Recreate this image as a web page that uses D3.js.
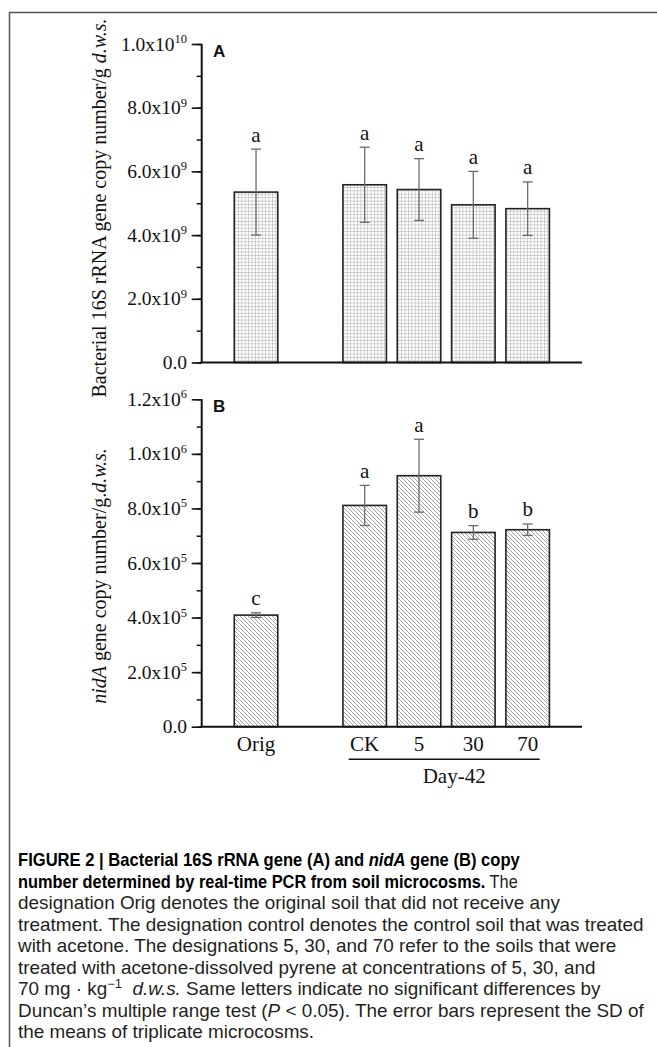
<!DOCTYPE html>
<html><head><meta charset="utf-8">
<script src="https://cdn.jsdelivr.net/npm/d3@7"></script>
<style>body{margin:0;background:#fff}svg{display:block}</style>
</head><body>
<svg id="c" width="657" height="1047"></svg>
<script>
// ---------- data ----------
const slots = ["Orig", "gap", "CK", "5", "30", "70"];
const categories = ["Orig", "CK", "5", "30", "70"];
const valuesA = [5.35e9, 5.58e9, 5.43e9, 4.95e9, 4.83e9];
const sdA = [1.35e9, 1.18e9, 0.97e9, 1.05e9, 0.84e9];
const lettersA = ["a", "a", "a", "a", "a"];
const valuesB = [4.09e5, 8.11e5, 9.20e5, 7.12e5, 7.22e5];
const sdB = [0.085e5, 0.735e5, 1.335e5, 0.25e5, 0.21e5];
const lettersB = ["c", "a", "a", "b", "b"];
const ticksA = [0, 2e9, 4e9, 6e9, 8e9, 1e10];
const tickMantA = ["0.0", "2.0", "4.0", "6.0", "8.0", "1.0"];
const tickExpA = ["", "9", "9", "9", "9", "10"];
const ticksB = [0, 2e5, 4e5, 6e5, 8e5, 1e6, 1.2e6];
const tickMantB = ["0.0", "2.0", "4.0", "6.0", "8.0", "1.0", "1.2"];
const tickExpB = ["", "5", "5", "5", "5", "6", "6"];
const groupLabel = "Day-42";

const svg = d3.select("#c");
const SERIF = "'Liberation Serif','Times New Roman',serif";
const SANS = "'Liberation Sans',Arial,sans-serif";

// frame
svg.append("rect").attr("x", 9.5).attr("y", 12.5).attr("width", 800).attr("height", 1200)
  .attr("fill", "none").attr("stroke", "#555").attr("stroke-width", 1.5);

// patterns
const defs = svg.append("defs");
const pg = defs.append("pattern").attr("id", "grid").attr("patternUnits", "userSpaceOnUse")
  .attr("width", 3.4).attr("height", 3.4);
pg.append("rect").attr("width", 3.4).attr("height", 3.4).attr("fill", "#fff");
pg.append("path").attr("d", "M0,0.3 H3.4 M0.3,0 V3.4").attr("stroke", "#b4b4b4").attr("stroke-width", 0.7);
const ph = defs.append("pattern").attr("id", "hatch").attr("patternUnits", "userSpaceOnUse")
  .attr("width", 4).attr("height", 4);
ph.append("rect").attr("width", 4).attr("height", 4).attr("fill", "#fff");
ph.append("path").attr("d", "M-1,-1 L5,5 M3,-1 L5,1 M-1,3 L1,5").attr("stroke", "#8a8a8a").attr("stroke-width", 0.8);

const x = d3.scalePoint().domain(slots).range([201.7, 582]).padding(1);
const barW = 43.5;

function panel(opt) {
  const y = d3.scaleLinear().domain(opt.domain).range(opt.range);
  const g = svg.append("g");
  // bars
  g.selectAll("rect.bar").data(categories).join("rect")
    .attr("x", d => x(d) - barW / 2)
    .attr("y", (d, i) => y(opt.values[i]))
    .attr("width", barW)
    .attr("height", (d, i) => y(0) - y(opt.values[i]))
    .attr("fill", `url(#${opt.pattern})`)
    .attr("stroke", "#222").attr("stroke-width", 1.6);
  // error bars
  const eb = g.selectAll("g.eb").data(categories).join("g").attr("stroke", "#6a6a6a").attr("stroke-width", 1.3);
  eb.append("line").attr("x1", d => x(d)).attr("x2", d => x(d))
    .attr("y1", (d, i) => y(opt.values[i] + opt.sd[i])).attr("y2", (d, i) => y(opt.values[i] - opt.sd[i]));
  eb.append("line").attr("x1", d => x(d) - 5).attr("x2", d => x(d) + 5)
    .attr("y1", (d, i) => y(opt.values[i] + opt.sd[i])).attr("y2", (d, i) => y(opt.values[i] + opt.sd[i]));
  eb.append("line").attr("x1", d => x(d) - 5).attr("x2", d => x(d) + 5)
    .attr("y1", (d, i) => y(opt.values[i] - opt.sd[i])).attr("y2", (d, i) => y(opt.values[i] - opt.sd[i]));
  // letters
  g.selectAll("text.let").data(categories).join("text")
    .attr("x", d => x(d)).attr("y", (d, i) => y(opt.values[i] + opt.sd[i]) - 7.5)
    .attr("text-anchor", "middle").attr("font-family", SERIF).attr("font-size", 21)
    .attr("fill", "#111").text((d, i) => opt.letters[i]);
  // minor ticks
  const minor = d3.range(opt.domain[0], opt.domain[1] + opt.minorStep / 2, opt.minorStep);
  const ax0 = 201.7;
  g.append("g").attr("transform", `translate(${ax0},0)`)
    .call(d3.axisLeft(y).tickValues(minor).tickSize(5).tickSizeOuter(0).tickFormat(""))
    .call(s => s.select(".domain").remove())
    .call(s => s.selectAll("line").attr("stroke", "#111").attr("stroke-width", 1.5));
  const ya = g.append("g").attr("transform", `translate(${ax0},0)`)
    .call(d3.axisLeft(y).tickValues(opt.ticks).tickSize(10).tickSizeOuter(0).tickFormat(""));
  ya.select(".domain").attr("stroke", "#111").attr("stroke-width", 2).attr("d", `M0,${y(opt.domain[1])}V${y(0)}`);
  ya.selectAll("line").attr("stroke", "#111").attr("stroke-width", 1.6);
  // tick labels
  const tl = g.selectAll("text.tl").data(opt.ticks).join("text")
    .attr("x", 187).attr("y", d => y(d) + 6.5)
    .attr("text-anchor", "end").attr("font-family", SERIF).attr("font-size", 19.5).attr("fill", "#111");
  tl.append("tspan").text((d, i) => opt.mant[i] + (opt.exp[i] ? "x10" : ""));
  tl.filter((d, i) => opt.exp[i]).append("tspan").attr("font-size", 12.5).attr("dy", -7.5)
    .text((d, i) => opt.exp[opt.ticks.indexOf(d)]);
  // baseline
  g.append("line").attr("x1", ax0 - 1).attr("x2", 582).attr("y1", y(0)).attr("y2", y(0))
    .attr("stroke", "#111").attr("stroke-width", 2);
  // panel letter
  g.append("text").attr("x", 213).attr("y", y(opt.domain[1]) + 12.5)
    .attr("font-family", SANS).attr("font-weight", "bold").attr("font-size", 17).attr("fill", "#111")
    .text(opt.label);
  // y title
  const t = g.append("text").attr("transform", `translate(106,${opt.titleY}) rotate(-90)`)
    .attr("text-anchor", "middle").attr("font-family", SERIF).attr("font-size", 20).attr("fill", "#111");
  opt.title.forEach(s => t.append("tspan").attr("font-style", s.i ? "italic" : null).text(s.t));
  return y;
}

panel({ domain: [0, 1e10], range: [362.5, 44], values: valuesA, sd: sdA, letters: lettersA,
  ticks: ticksA, mant: tickMantA, exp: tickExpA, minorStep: 1e9, pattern: "grid", label: "A",
  titleY: 208, title: [{ t: "Bacterial 16S rRNA gene copy number/g " }, { t: "d.w.s.", i: 1 }] });

const yB = panel({ domain: [0, 1.2e6], range: [726.7, 399.3], values: valuesB, sd: sdB, letters: lettersB,
  ticks: ticksB, mant: tickMantB, exp: tickExpB, minorStep: 1e5, pattern: "hatch", label: "B",
  titleY: 576, title: [{ t: "nidA", i: 1 }, { t: " gene copy number/g." }, { t: "d.w.s.", i: 1 }] });

// x labels
svg.selectAll("text.xl").data(categories).join("text")
  .attr("x", d => x(d)).attr("y", 750.5).attr("text-anchor", "middle")
  .attr("font-family", SERIF).attr("font-size", 21).attr("fill", "#111").text(d => d);
const xg0 = x("CK") - 16, xg1 = x("70") + 12;
svg.append("line").attr("x1", xg0).attr("x2", xg1).attr("y1", 759.3).attr("y2", 759.3)
  .attr("stroke", "#111").attr("stroke-width", 1.6);
svg.append("text").attr("x", (x("30") + x("5")) / 2 + 8).attr("y", 782.5).attr("text-anchor", "middle")
  .attr("font-family", SERIF).attr("font-size", 21).attr("fill", "#111").text(groupLabel);

// caption
const capLines = [
  [{ t: "FIGURE 2 | Bacterial 16S rRNA gene (A) and ", b: 1 }, { t: "nidA", b: 1, i: 1 }, { t: " gene (B) copy", b: 1 }],
  [{ t: "number determined by real-time PCR from soil microcosms.", b: 1 }, { t: " The" }],
  [{ t: "designation Orig denotes the original soil that did not receive any" }],
  [{ t: "treatment. The designation control denotes the control soil that was treated" }],
  [{ t: "with acetone. The designations 5, 30, and 70 refer to the soils that were" }],
  [{ t: "treated with acetone-dissolved pyrene at concentrations of 5, 30, and" }],
  [{ t: "70 mg \u00B7 kg" }, { t: "\u22121", sup: 1 }, { t: "  " , back: 1 }, { t: "d.w.s.", i: 1 }, { t: " Same letters indicate no significant differences by" }],
  [{ t: "Duncan\u2019s multiple range test (" }, { t: "P", i: 1 }, { t: " < 0.05). The error bars represent the SD of" }],
  [{ t: "the means of triplicate microcosms." }]
];
const cap = svg.append("g");
const capTexts = capLines.map((segs, k) => {
  const t = cap.append("text").attr("x", 0).attr("y", 0)
    .attr("font-family", SANS).attr("font-size", 17.5).attr("fill", "#231f20")
    .attr("xml:space", "preserve").style("white-space", "pre");
  segs.forEach(s => {
    const sp = t.append("tspan").text(s.t);
    if (s.b) sp.attr("font-weight", "bold").attr("fill", "#000");
    if (s.i) sp.attr("font-style", "italic");
    if (s.sup) sp.attr("font-size", 12).attr("dy", -7);
    if (s.back) sp.attr("dy", 7);
  });
  return t;
});
const sx = 626 / capTexts[3].node().getComputedTextLength();
const boldTargets = { 0: 502, 1: 500 };
capTexts.forEach((t, k) => {
  const s = boldTargets[k] ? boldTargets[k] / t.node().getComputedTextLength() : sx;
  t.attr("transform", `translate(18,${866 + k * 21.55}) scale(${s},1)`);
});
</script>
</body></html>
